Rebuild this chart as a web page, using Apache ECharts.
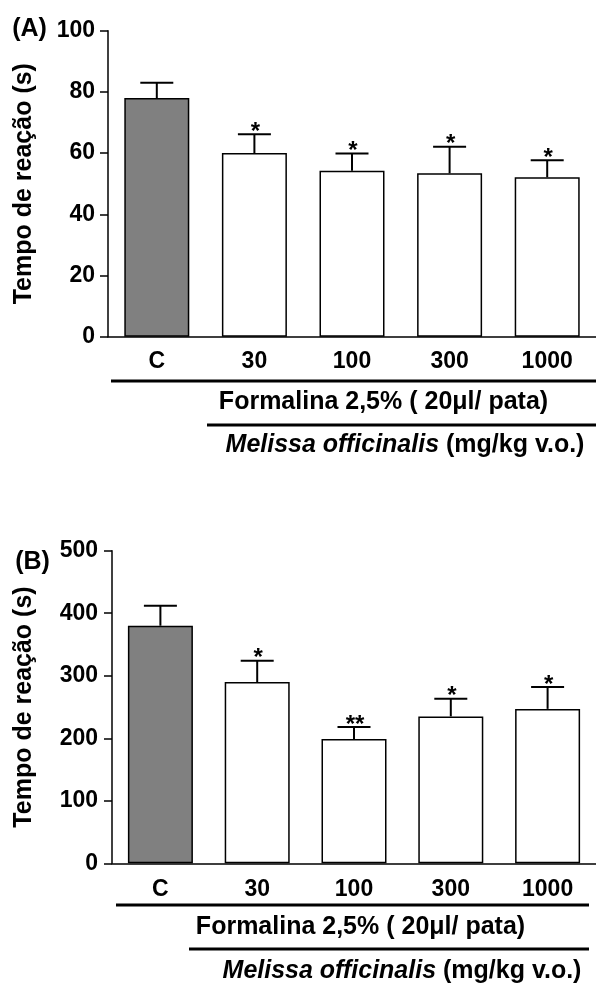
<!DOCTYPE html>
<html><head><meta charset="utf-8">
<script src="https://cdn.jsdelivr.net/npm/echarts@6/dist/echarts.min.js"></script>
<style>html,body{margin:0;padding:0;background:#fff}#c{width:596px;height:986px}</style>
</head><body><div id="c"></div>
<script>
const categories = ['C', '30', '100', '300', '1000'];
const valuesA = [78, 60, 54.2, 53.4, 52.1];
const errorsA = [5, 6.2, 5.7, 8.7, 5.6];
const signifA = ['', '*', '*', '*', '*'];
const valuesB = [380, 290, 199, 235, 247];
const errorsB = [32, 34, 19, 28, 35];
const signifB = ['', '*', '**', '*', '*'];
const yMaxA = 100, yStepA = 20;
const yMaxB = 500, yStepB = 100;
const yTitle = 'Tempo de reação (s)';
const panelA = '(A)', panelB = '(B)';
const formalinaText = 'Formalina 2,5% ( 20μl/ pata)';
const melissaItalic = 'Melissa officinalis';
const melissaNormal = ' (mg/kg v.o.)';

const FONT = '"Liberation Sans", Arial, sans-serif';
const barColors = ['#808080', '#ffffff', '#ffffff', '#ffffff', '#ffffff'];

function barData(vals) {
  return vals.map((v, i) => ({ value: v, itemStyle: { color: barColors[i] } }));
}
function errData(vals, errs) {
  return vals.map((v, i) => [i, v, errs[i]]);
}
function errRender(signif) {
  return function (params, api) {
    const i = params.dataIndex;
    const v = api.value(1), e = api.value(2);
    const b = api.coord([i, v]);
    const t = api.coord([i, v + e]);
    const half = 16.5;
    const ch = [
      { type: 'line', shape: { x1: b[0], y1: b[1], x2: t[0], y2: t[1] }, style: { stroke: '#000', lineWidth: 2 } },
      { type: 'line', shape: { x1: t[0] - half, y1: t[1], x2: t[0] + half, y2: t[1] }, style: { stroke: '#000', lineWidth: 2 } }
    ];
    if (signif[i]) {
      ch.push({ type: 'text', x: t[0] + 1, y: t[1] + 10, style: {
        text: signif[i], fill: '#000', font: 'bold 24px ' + FONT,
        textAlign: 'center', textVerticalAlign: 'bottom' } });
    }
    return { type: 'group', children: ch };
  };
}
function xAxisCfg(gi, margin) {
  return {
    type: 'category', gridIndex: gi, data: categories,
    axisLine: { lineStyle: { color: '#000', width: 1.5 } },
    axisTick: { show: false },
    axisLabel: { color: '#000', fontFamily: FONT, fontWeight: 'bold', fontSize: 23, margin: margin }
  };
}
function yAxisCfg(gi, max, step, margin, gap) {
  return {
    type: 'value', gridIndex: gi, min: 0, max: max, interval: step,
    name: yTitle, nameLocation: 'middle', nameGap: gap,
    nameTextStyle: { color: '#000', fontFamily: FONT, fontWeight: 'bold', fontSize: 25 },
    axisLine: { show: true, lineStyle: { color: '#000', width: 1.5 } },
    axisTick: { show: true, length: 8, lineStyle: { color: '#000', width: 1.5 } },
    splitLine: { show: false },
    axisLabel: { color: '#000', fontFamily: FONT, fontWeight: 'bold', fontSize: 23, margin: margin }
  };
}
function txt(x, y, text, extra) {
  return Object.assign({ type: 'text', x: x, y: y, style: {
    text: text, fill: '#000', font: 'bold 25px ' + FONT, textAlign: 'center', textVerticalAlign: 'middle' } }, extra || {});
}
function hline(x1, x2, y) {
  return { type: 'line', shape: { x1: x1, y1: y, x2: x2, y2: y }, style: { stroke: '#000', lineWidth: 3 } };
}
function melissa(x, y) {
  return { type: 'text', x: x, y: y, style: {
    text: '{i|' + melissaItalic + '}{n|' + melissaNormal + '}',
    textAlign: 'center', textVerticalAlign: 'middle',
    rich: {
      i: { fill: '#000', fontFamily: FONT, fontWeight: 'bold', fontStyle: 'italic', fontSize: 25 },
      n: { fill: '#000', fontFamily: FONT, fontWeight: 'bold', fontSize: 25 }
    } } };
}

const chart = echarts.init(document.getElementById('c'), null, { renderer: 'canvas' });
chart.setOption({
  animation: false,
  backgroundColor: '#fff',
  grid: [
    { left: 108, top: 30.7, width: 492, height: 306 },
    { left: 112, top: 550.7, width: 488, height: 312.6 }
  ],
  xAxis: [xAxisCfg(0, 13), xAxisCfg(1, 15)],
  yAxis: [yAxisCfg(0, yMaxA, yStepA, 13, 71), yAxisCfg(1, yMaxB, yStepB, 14, 75)],
  series: [
    { type: 'bar', xAxisIndex: 0, yAxisIndex: 0, data: barData(valuesA), barWidth: 65,
      itemStyle: { borderColor: '#000', borderWidth: 1.5 } },
    { type: 'custom', xAxisIndex: 0, yAxisIndex: 0, data: errData(valuesA, errorsA), renderItem: errRender(signifA), z: 5 },
    { type: 'bar', xAxisIndex: 1, yAxisIndex: 1, data: barData(valuesB), barWidth: 65,
      itemStyle: { borderColor: '#000', borderWidth: 1.5 } },
    { type: 'custom', xAxisIndex: 1, yAxisIndex: 1, data: errData(valuesB, errorsB), renderItem: errRender(signifB), z: 5 }
  ],
  graphic: [
    txt(29.5, 29, panelA),
    hline(111, 596, 381),
    txt(383.5, 402.5, formalinaText),
    hline(207, 596, 425),
    melissa(405, 445),
    txt(32.5, 562, panelB),
    hline(116, 589, 905),
    txt(360.5, 927, formalinaText),
    hline(189, 589, 949),
    melissa(402, 971)
  ]
});
</script>
</body></html>
